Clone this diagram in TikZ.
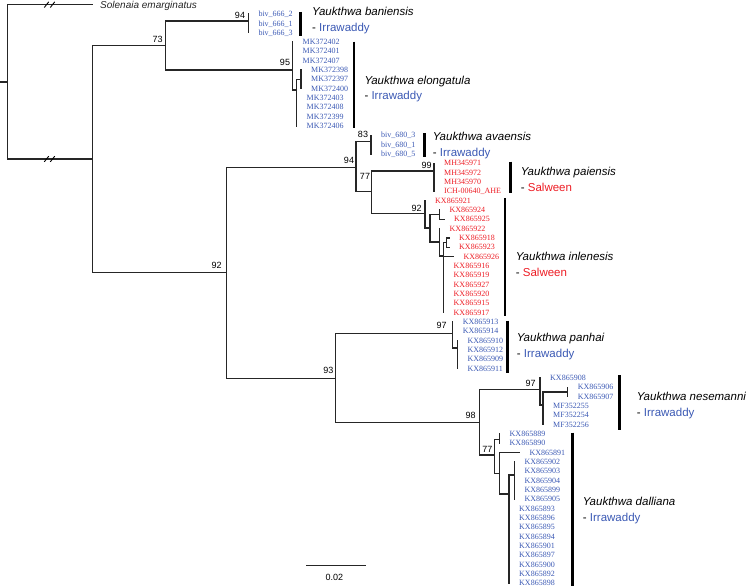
\documentclass[tikz,border=0pt]{standalone}
\usepackage{fontspec}
\setmainfont{Liberation Serif}
\newfontfamily\arial{Liberation Sans}
\usepackage{tikz}
\usetikzlibrary{positioning}
\definecolor{irr}{RGB}{59,89,180}
\definecolor{sal}{RGB}{237,28,36}

\begin{document}
\begin{tikzpicture}[
		x=1pt, y=-1pt,
		branch/.style={line width=1.2pt, line cap=rect, black!85},
		cladebar/.style={line width=2.6pt, black},
		tip/.style={anchor=west, inner sep=0pt, font=\fontsize{8}{8}\selectfont, text height=5.3pt, text depth=0pt},
		boot/.style={inner sep=0pt, font=\arial\fontsize{9}{9}\selectfont, text height=6.4pt, text depth=0pt},
		species/.style={anchor=west, inner sep=0pt, font=\arial\itshape\fontsize{11.5}{11.5}\selectfont, text height=8.3pt, text depth=0pt},
		river/.style={inner sep=0pt, font=\arial\fontsize{11.5}{11.5}\selectfont, text height=8.3pt, text depth=0pt}
	]
  \useasboundingbox (0,0) rectangle (750,586);

  % internal nodes
  \coordinate (stub) at (0,82);
  \coordinate (root) at (7.3,82);
  \coordinate (ingrp) at (92.7,159);
  \coordinate (n73) at (165.7,45.7);
  \coordinate (n94b) at (248.3,21);
  \coordinate (n95) at (292.5,70);
  \coordinate (n95a) at (296.5,90);
  \coordinate (n95b) at (301,79.3);
  \coordinate (n92) at (226.7,272.7);
  \coordinate (n94a) at (356,167.7);
  \coordinate (n83) at (371,141.7);
  \coordinate (n77a) at (371.7,191.7);
  \coordinate (n99) at (434,171);
  \coordinate (n92i) at (425,213.3);
  \coordinate (nA) at (430,228);
  \coordinate (nB) at (439.3,214.6);
  \coordinate (nC) at (439.5,242);
  \coordinate (nE) at (443.5,256);
  \coordinate (nD) at (446.5,242.6);
  \coordinate (n93) at (335.7,378.3);
  \coordinate (n97p) at (452.7,333.3);
  \coordinate (nP) at (457.3,348);
  \coordinate (n98) at (479.3,422.7);
  \coordinate (n97n) at (540,389.3);
  \coordinate (nG) at (543,405);
  \coordinate (nH) at (567.7,392);
  \coordinate (n77d) at (494.3,455);
  \coordinate (nI) at (499.5,439.3);
  \coordinate (nJ) at (499.5,473.3);
  \coordinate (nK) at (509,494);
  \coordinate (nL) at (514.3,475);

  % outgroup
  \coordinate (t0) at (92.7,4.7);
  \node[tip, font=\arial\itshape\fontsize{10}{10}\selectfont, text height=7.2pt, text=black!85] (l0) at (100,4.7) {Solenaia emarginatus};

  % tips, Irrawaddy
  \foreach \i/\x/\n in {1/248.3/biv\_666\_2, 2/248.3/biv\_666\_1, 3/248.3/biv\_666\_3,
      4/292.5/MK372402, 5/292.5/MK372401, 6/292.5/MK372407, 7/301/MK372398, 8/301/MK372397,
      9/301/MK372400, 10/296.5/MK372403, 11/296.5/MK372408, 12/296.5/MK372399, 13/296.5/MK372406,
      14/371/biv\_680\_3, 15/371/biv\_680\_1, 16/371/biv\_680\_5,
      34/452.7/KX865913, 35/452.7/KX865914, 36/457.3/KX865910, 37/457.3/KX865912, 38/457.3/KX865909,
      39/457.3/KX865911, 40/540/KX865908, 41/567.7/KX865906, 42/567.7/KX865907, 43/543/MF352255,
      44/543/MF352254, 45/543/MF352256, 46/499.5/KX865889, 47/499.5/KX865890, 48/519.3/KX865891,
      49/514.3/KX865902, 50/514.3/KX865903, 51/514.3/KX865904, 52/514.3/KX865899, 53/514.3/KX865905,
      54/509/KX865893, 55/509/KX865896, 56/509/KX865895, 57/509/KX865894, 58/509/KX865901,
      59/509/KX865897, 60/509/KX865900, 61/509/KX865892, 62/509/KX865898} {
    \coordinate (t\i) at (\x, {4.7+9.33*\i});
    \node[tip, text=irr] (l\i) at ([xshift=10pt]t\i) {\n};
  }
  % tips, Salween
  \foreach \i/\x/\n in {17/434/MH345971, 18/434/MH345972, 19/434/MH345970, 20/434/ICH-00640\_AHE,
      21/425/KX865921, 22/439.3/KX865924, 23/444/KX865925, 24/439.5/KX865922, 25/449/KX865918,
      26/449/KX865923, 27/453.3/KX865926, 28/443.5/KX865916, 29/443.5/KX865919, 30/443.5/KX865927,
      31/443.5/KX865920, 32/443.5/KX865915, 33/443.5/KX865917} {
    \coordinate (t\i) at (\x, {4.7+9.33*\i});
    \node[tip, text=sal] (l\i) at ([xshift=10pt]t\i) {\n};
  }

  % branches
  \draw[branch] (stub) -- (root);
  \foreach \a/\b in {root/t0, root/ingrp, ingrp/n73, ingrp/n92, n73/n94b, n73/n95,
      n95/n95a, n95a/n95b, n92/n94a, n92/n93, n94a/n83, n94a/n77a, n77a/n99, n77a/n92i,
      n92i/t21, n92i/nA, nA/nB, nA/nC, nB/t22, nB/t23, nC/t24, nC/nE, nE/nD, nE/t27, nD/t25, nD/t26,
      n93/n97p, n93/n98, n97p/t34, n97p/t35, n97p/nP, n98/n97n, n98/n77d, n97n/t40, n97n/nG,
      nG/nH, nH/t41, nH/t42, n77d/nI, n77d/nJ, nI/t46, nI/t47, nJ/t48, nJ/nK, nK/nL}
    \draw[branch] (\a) |- (\b);
  \foreach \i in {1,2,3} \draw[branch] (n94b) |- (t\i);
  \foreach \i in {4,5,6} \draw[branch] (n95) |- (t\i);
  \foreach \i in {7,8,9} \draw[branch] (n95b) |- (t\i);
  \foreach \i in {10,...,13} \draw[branch] (n95a) |- (t\i);
  \foreach \i in {14,15,16} \draw[branch] (n83) |- (t\i);
  \foreach \i in {17,...,20} \draw[branch] (n99) |- (t\i);
  \foreach \i in {28,...,33} \draw[branch] (nE) |- (t\i);
  \foreach \i in {36,...,39} \draw[branch] (nP) |- (t\i);
  \foreach \i in {43,44,45} \draw[branch] (nG) |- (t\i);
  \foreach \i in {49,...,53} \draw[branch] (nL) |- (t\i);
  \foreach \i in {54,...,62} \draw[branch] (nK) |- (t\i);

  % broken branches
  \foreach \y in {4.7,159}
    \foreach \x in {46.5,52.5}
      \draw[line width=0.9pt] (\x-2.2,\y+2.8) -- (\x+2.2,\y-2.8);

  % bootstrap values
  \node[boot] (b73) at (157.7,39) {73};
  \node[boot] (b94b) at (240,15) {94};
  \node[boot] (b95) at (285,62.7) {95};
  \node[boot] (b83) at (363,134) {83};
  \node[boot] (b94a) at (349,160) {94};
  \node[boot] (b77a) at (365,176) {77};
  \node[boot] (b99) at (426.7,165) {99};
  \node[boot] (b92i) at (416.7,208.3) {92};
  \node[boot] (b92) at (216.7,265) {92};
  \node[boot] (b93) at (328.3,370) {93};
  \node[boot] (b97p) at (441.7,325.7) {97};
  \node[boot] (b98) at (470.7,415) {98};
  \node[boot] (b97n) at (530.7,383.3) {97};
  \node[boot] (b77d) at (487.3,449.3) {77};

  % clade bars
  \foreach \c/\x/\a/\b in {ban/300.7/12/36, elo/354/41.7/128.3, ava/424.3/133.3/156.7,
      pai/510.7/161.7/193.3, inl/505/198.3/316, pan/507.3/320.7/372.7,
      nes/619.3/375/430, dal/572.7/432.7/586} {
    \coordinate (\c-top) at (\x,\a);
    \coordinate (\c-bot) at (\x,\b);
    \draw[cladebar] (\c-top) -- (\c-bot);
  }

  % species and basins
  \foreach \c/\x/\y/\n/\r/\col in {ban/312/11.7/baniensis/Irrawaddy/irr,
      elo/364.3/80/elongatula/Irrawaddy/irr, ava/432.7/136.7/avaensis/Irrawaddy/irr,
      pai/520.7/171.7/paiensis/Salween/sal, inl/515.7/256.7/inlenesis/Salween/sal,
      pan/516.7/337.7/panhai/Irrawaddy/irr, nes/636.7/396.7/nesemanni/Irrawaddy/irr,
      dal/582.7/501.7/dalliana/Irrawaddy/irr} {
    \node[species] (sp-\c) at (\x,\y) {Yaukthwa \n};
    \node[river, below=6.7pt of sp-\c.south west, anchor=north west] (rv-\c) {- \textcolor{\col}{\r}};
  }

  % scale bar
  \coordinate (sbl) at (306.7,565.7);
  \coordinate (sbr) at (365,565.7);
  \draw[branch] (sbl) -- (sbr);
  \node[boot] (sblabel) at (334.3,577.3) {0.02};
\end{tikzpicture}
\end{document}
